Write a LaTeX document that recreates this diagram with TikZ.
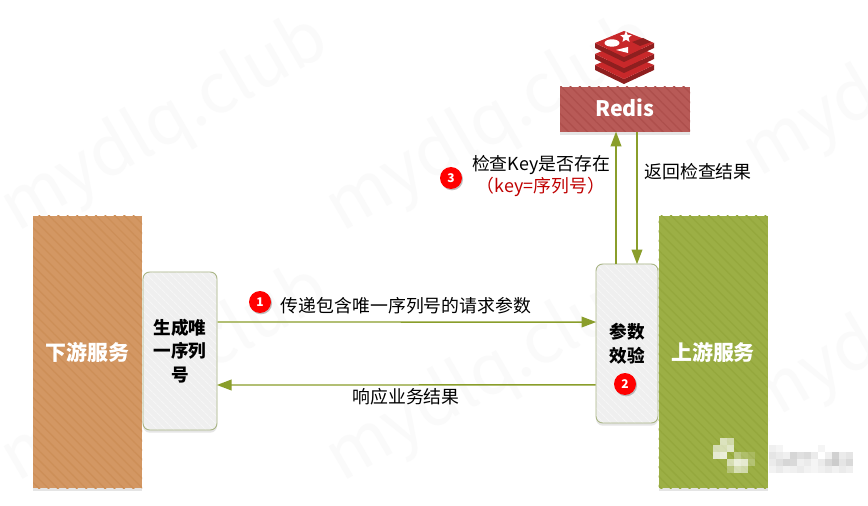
\documentclass[tikz,border=0pt]{standalone}
\usepackage{fontspec}
\setmainfont{Noto Sans CJK SC}
\usetikzlibrary{arrows.meta,patterns.meta,shadows,shapes.geometric}

\definecolor{flowcolor}{HTML}{8A9E2B}
\definecolor{orangebox}{HTML}{D39763}
\definecolor{orangeline}{HTML}{CD8F58}
\definecolor{greenbox}{HTML}{9CAF45}
\definecolor{greenline}{HTML}{95A83D}
\definecolor{redisbox}{HTML}{B85A57}
\definecolor{redisline}{HTML}{AE4F4C}
\definecolor{stepfill}{HTML}{EFEFEF}
\definecolor{stepline}{HTML}{F6F6F6}
\definecolor{stepedge}{HTML}{A9B585}
\definecolor{logored}{HTML}{C8282A}
\definecolor{logodark}{HTML}{8E1F1F}
\definecolor{keyred}{HTML}{C00000}

\tikzset{
    service/.style={minimum width=81.75pt, minimum height=204pt, inner sep=0pt, text=white,
        font=\fontsize{15.7}{18}\selectfont\bfseries, drop shadow={shadow xshift=0pt, shadow yshift=-2pt, opacity=0.2}},
    stepbox/.style={rounded corners=5pt, draw=stepedge, line width=0.7pt, inner sep=0pt, align=center,
        drop shadow={shadow xshift=0pt, shadow yshift=-2pt, opacity=0.2}, preaction={fill=stepfill},
        pattern={Lines[angle=-45,distance=4pt,line width=0.8pt]}, pattern color=stepline,
        font=\fontsize{13.2}{17.6}\selectfont\bfseries},
    badge/.style={circle, fill=red, minimum size=16.5pt, inner sep=0pt, text=white,
        font=\fontsize{9}{10}\selectfont\bfseries, drop shadow={shadow xshift=0.8pt, shadow yshift=-1pt, opacity=0.5}},
    flow/.style={draw=flowcolor, line width=1.1pt, -{Triangle[length=11pt,width=8pt]}, shorten >=-0.5pt},
    caption/.style={font=\fontsize{13.4}{16}\selectfont, inner sep=0pt},
    watermark/.style={text=black!2, rotate=30, font=\fontsize{52}{60}\selectfont}
}

\begin{document}
\begin{tikzpicture}[x=0.75pt, y=-0.75pt]

\useasboundingbox (0,0) rectangle (868,506);
\fill[white] (0,0) rectangle (868,506);

% ============================================
% 1. WATERMARK
% ============================================
\node[watermark] (markA) at (165,125) {mydlq.club};
\node[watermark] (markB) at (490,125) {mydlq.club};
\node[watermark] (markC) at (165,375) {mydlq.club};
\node[watermark] (markD) at (490,375) {mydlq.club};
\node[watermark] (markE) at (812,125) {myd};
\node[watermark] (markF) at (812,375) {myd};

% ============================================
% 2. SERVICES
% ============================================
\node[service, preaction={fill=orangebox}, pattern={Lines[angle=-45,distance=5pt,line width=1pt]}, pattern color=orangeline] (down) at (87.5,352) {下游服务};
\node[service, preaction={fill=greenbox}, pattern={Lines[angle=-45,distance=5pt,line width=1pt]}, pattern color=greenline] (up) at (713,352) {上游服务};
\node[stepbox, minimum width=55.5pt, minimum height=118.5pt] (gen) at (180,351) {生成唯\\一序列\\号};
\node[stepbox, minimum width=46.5pt, minimum height=119.25pt] (check) at (627,343.5) {参数\\效验};

% ============================================
% 3. REDIS
% ============================================
\node[minimum width=97.5pt, minimum height=33.75pt, inner sep=0pt, text=white, text depth=3pt, font=\fontsize{16}{18}\selectfont\bfseries,
    drop shadow={shadow xshift=0pt, shadow yshift=-2pt, opacity=0.2}, preaction={fill=redisbox},
    pattern={Lines[angle=-45,distance=5pt,line width=1pt]}, pattern color=redisline] (redis) at (625,109.5) {Redis};

% Logo
\foreach \dy in {22,11,0} {
    \begin{scope}[yshift=-0.75*\dy]
        \fill[logodark] (595,43) -- (624,57) -- (654,43) -- (654,48) -- (624,62) -- (595,48) -- cycle;
        \fill[logored] (595,43) -- (624,31) -- (654,43) -- (624,57) -- cycle;
    \end{scope}
}
\fill[white] (612,43) ellipse[x radius=7.5, y radius=3.7];
\node[star, star points=5, star point ratio=2.2, fill=white, inner sep=0pt, minimum size=9pt] (logostar) at (626,37) {};
\fill[white] (616,50) -- (628,47) -- (628,53) -- cycle;
\fill[logodark] (632,42) -- (643,38) -- (651,42) -- (640,46) -- cycle;

% ============================================
% 4. ARROWS
% ============================================
\draw[flow] ([yshift=21.75pt]gen.east) -- ([yshift=16.1pt]check.west);
\draw[flow] ([yshift=-31.1pt]check.west) -- ([yshift=-25.5pt]gen.east);
\draw[flow] ([xshift=-8.25pt]check.north) -- ([xshift=-6.75pt]redis.south);
\draw[flow] ([xshift=9pt]redis.south) -- ([xshift=7.5pt]check.north);

% ============================================
% 5. LABELS
% ============================================
\node[caption] (reqlabel) at (406,306) {传递包含唯一序列号的请求参数};
\node[caption] (resplabel) at (406,397) {响应业务结果};
\node[caption] (keylabel) at (541,165) {检查Key是否存在};
\node[caption, text=keyred] (keyname) at (541,187) {（key=序列号）};
\node[caption] (backlabel) at (698,172) {返回检查结果};

\node[badge] (one) at (260,302) {1};
\node[badge] (two) at (625,384) {2};
\node[badge] (three) at (451,178) {3};

% ============================================
% 6. MOSAIC
% ============================================
\foreach \col/\row/\tone in {
    0/1/60,1/0/65,2/0/55,0/2/75,1/1/60,1/2/80,2/1/70,
    2/3/60,3/3/80,4/3/75,3/2/35,4/2/20,2/4/30,3/4/60,4/4/55,5/3/25,5/2/15} {
    \fill[white, opacity=\tone/100] (713+7*\col,438+7*\row) rectangle +(7,7);
}
\foreach \col/\row/\tone in {
    8/1/6,9/1/4,8/2/10,9/2/8,10/2/6,11/2/16,12/2/12,13/2/14,14/2/8,15/1/4,
    8/3/8,9/3/12,10/3/16,11/3/15,12/3/6,13/3/8,14/3/4,15/3/8,16/2/6,17/2/18,18/2/8,19/2/10,
    16/3/15,17/3/20,18/3/10,19/3/15,
    8/4/5,9/4/8,10/4/5,11/4/6,12/4/8,13/4/5,14/4/4,15/4/6,16/4/8,17/4/5,18/4/8,19/4/6} {
    \fill[black!\tone] (713+7*\col,438+7*\row) rectangle +(7,7);
}

\end{tikzpicture}
\end{document}
